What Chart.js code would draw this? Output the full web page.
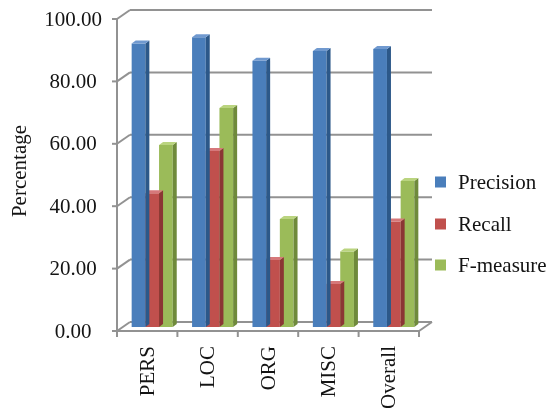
<!DOCTYPE html>
<html>
<head>
<meta charset="utf-8">
<title>Precision, Recall and F-measure</title>
<script src="https://cdn.jsdelivr.net/npm/chart.js@4.4.1/dist/chart.umd.min.js"></script>
<style>
  html, body { margin: 0; padding: 0; background: #ffffff; }
  #wrap { width: 554px; height: 408px; position: relative; }
</style>
</head>
<body>
<div id="wrap"><canvas id="chart" width="554" height="408"></canvas></div>
<script>
// ---- data ----
const categories = ['PERS', 'LOC', 'ORG', 'MISC', 'Overall'];
const precision  = [90.9, 92.9, 85.3, 88.5, 89.1];
const recall     = [42.9, 56.4, 21.5, 13.8, 33.8];
const fMeasure   = [58.3, 70.2, 34.6, 24.2, 46.8];
const seriesNames = ['Precision', 'Recall', 'F-measure'];
const yMin = 0, yMax = 100, yStep = 20;

// ---- styling ----
const FONT = "'Liberation Serif', 'Times New Roman', serif";
const TEXT = '#141414';
const GRID = '#929292';
const faces = [
  { front: '#4a7ebb', side: '#2c5889', top: '#7099cf' },
  { front: '#c0504d', side: '#8b3634', top: '#d6787a' },
  { front: '#9bbb59', side: '#6f8a3b', top: '#bad47f' }
];
// pseudo-3D offsets relative to the bar plane
const FRONT = { dx: -5, dy: 4 };
const BACK = { dx: 8, dy: -5 };
const BAR_DEPTH = { dx: 4, dy: -3 };

// walls, floor and axis ticks of the 3D box
const frame3d = {
  id: 'frame3d',
  beforeDatasetsDraw(chart) {
    const { ctx, chartArea: a } = chart;
    const ys = chart.scales.y, xs = chart.scales.x;
    const L = a.left, R = a.right;
    ctx.save();
    ctx.strokeStyle = GRID;
    ctx.lineWidth = 2;
    ctx.lineCap = 'butt';
    const line = (x1, y1, x2, y2) => {
      ctx.beginPath(); ctx.moveTo(x1, y1); ctx.lineTo(x2, y2); ctx.stroke();
    };
    ys.ticks.forEach(t => {
      const p = ys.getPixelForValue(t.value);
      line(L + BACK.dx, p + BACK.dy, R + BACK.dx, p + BACK.dy);
      line(L + FRONT.dx, p + FRONT.dy, L + BACK.dx, p + BACK.dy);
      line(L + FRONT.dx - 5, p + FRONT.dy, L + FRONT.dx, p + FRONT.dy);
    });
    const yTop = ys.getPixelForValue(yMax), y0 = ys.getPixelForValue(yMin);
    line(L + FRONT.dx, yTop + FRONT.dy, L + FRONT.dx, y0 + FRONT.dy);
    line(L + FRONT.dx, y0 + FRONT.dy, R + FRONT.dx, y0 + FRONT.dy);
    line(R + FRONT.dx, y0 + FRONT.dy, R + BACK.dx, y0 + BACK.dy);
    for (let i = 0; i <= categories.length; i++) {
      const px = xs.getPixelForValue(i - 0.5) + FRONT.dx;
      line(px, y0 + FRONT.dy, px, y0 + FRONT.dy + 6);
    }
    ctx.restore();
  }
};

// side and top faces of every bar
const bars3d = {
  id: 'bars3d',
  afterDatasetDraw(chart, args) {
    const { ctx } = chart;
    const f = faces[args.index];
    const dx = BAR_DEPTH.dx, dy = BAR_DEPTH.dy;
    ctx.save();
    args.meta.data.forEach(el => {
      const { x, y, base, width } = el.getProps(['x', 'y', 'base', 'width'], true);
      const x1 = x - width / 2, x2 = x + width / 2;
      ctx.fillStyle = f.side;
      ctx.beginPath();
      ctx.moveTo(x2, y); ctx.lineTo(x2 + dx, y + dy);
      ctx.lineTo(x2 + dx, base + dy); ctx.lineTo(x2, base);
      ctx.closePath(); ctx.fill();
      ctx.fillStyle = f.top;
      ctx.beginPath();
      ctx.moveTo(x1, y); ctx.lineTo(x1 + dx, y + dy);
      ctx.lineTo(x2 + dx, y + dy); ctx.lineTo(x2, y);
      ctx.closePath(); ctx.fill();
    });
    ctx.restore();
  }
};

// legend to the right of the plot
const sideLegend = {
  id: 'sideLegend',
  afterDraw(chart) {
    const { ctx } = chart;
    const rows = [182, 224, 265];
    ctx.save();
    ctx.font = '21px ' + FONT;
    ctx.textBaseline = 'middle';
    ctx.textAlign = 'left';
    chart.data.datasets.forEach((ds, i) => {
      ctx.fillStyle = ds.backgroundColor;
      ctx.fillRect(435, rows[i] - 5.5, 11, 11);
      ctx.fillStyle = TEXT;
      ctx.fillText(ds.label, 458, rows[i] + 1);
    });
    ctx.restore();
  }
};

new Chart(document.getElementById('chart'), {
  type: 'bar',
  data: {
    labels: categories,
    datasets: [precision, recall, fMeasure].map((values, i) => ({
      label: seriesNames[i],
      data: values,
      backgroundColor: faces[i].front,
      borderWidth: 0,
      categoryPercentage: 0.68,
      barPercentage: 1.0
    }))
  },
  options: {
    responsive: false,
    animation: false,
    layout: { padding: { left: 0, right: 130, top: 15, bottom: 0 } },
    plugins: {
      legend: { display: false },
      tooltip: { enabled: false }
    },
    scales: {
      x: {
        grid: { display: false, drawTicks: false },
        border: { display: false },
        ticks: {
          font: { family: FONT, size: 21 },
          color: TEXT,
          minRotation: 90,
          maxRotation: 90,
          autoSkip: false,
          padding: 19,
          labelOffset: -4
        },
        afterFit(scale) {
          scale.height = 81;
          scale.paddingLeft = 0;
          scale.paddingRight = 0;
        }
      },
      y: {
        min: yMin,
        max: yMax,
        grid: { display: false, drawTicks: false },
        border: { display: false },
        ticks: {
          stepSize: yStep,
          callback: v => Number(v).toFixed(2),
          font: { family: FONT, size: 21 },
          color: TEXT,
          crossAlign: 'center',
          padding: 20,
          labelOffset: 5
        },
        title: {
          display: true,
          text: 'Percentage',
          font: { family: FONT, size: 21 },
          color: TEXT,
          padding: { top: 8, bottom: 0 }
        },
        afterFit(scale) {
          scale.width = 122;
          scale.paddingTop = 0;
          scale.paddingBottom = 0;
        }
      }
    }
  },
  plugins: [frame3d, bars3d, sideLegend]
});
</script>
</body>
</html>
